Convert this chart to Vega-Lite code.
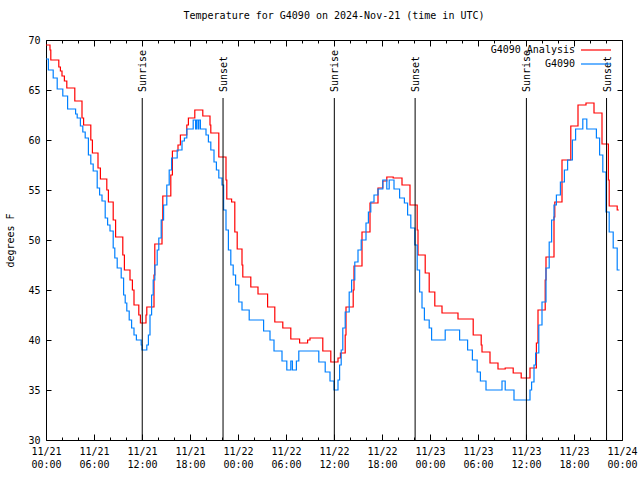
{
"$schema": "https://vega.github.io/schema/vega-lite/v6.json",
"width": 576, "height": 400,
"autosize": {"type": "none"},
"padding": {"left": 46, "top": 40, "right": 18, "bottom": 40},
"background": "white",
"title": {"text": "Temperature for G4090 on 2024-Nov-21 (time in UTC)", "font": "DejaVu Sans Mono", "fontSize": 10, "fontWeight": "normal", "anchor": "middle", "offset": 14, "color": "black"},
"config": {
  "view": {"stroke": "black", "strokeWidth": 1},
  "font": "DejaVu Sans Mono",
  "axis": {"labelFont": "DejaVu Sans Mono", "labelFontSize": 10, "labelColor": "black", "titleFont": "DejaVu Sans Mono", "titleFontSize": 10, "titleFontWeight": "normal", "titleColor": "black", "grid": false, "domain": false, "tickColor": "black", "tickWidth": 1, "labelFlush": false, "labelOverlap": false}
},
"datasets": {
  "temps": [
{"series":"G4090 Analysis","hour":0,"temp":69.5},{"series":"G4090 Analysis","hour":0.5,"temp":69},{"series":"G4090 Analysis","hour":0.6,"temp":68},{"series":"G4090 Analysis","hour":1.6,"temp":67.3},{"series":"G4090 Analysis","hour":1.8,"temp":66.9},{"series":"G4090 Analysis","hour":2,"temp":66.4},{"series":"G4090 Analysis","hour":2.3,"temp":65.9},{"series":"G4090 Analysis","hour":2.6,"temp":65.2},{"series":"G4090 Analysis","hour":3.6,"temp":63.9},{"series":"G4090 Analysis","hour":4.5,"temp":62.2},{"series":"G4090 Analysis","hour":4.7,"temp":61.5},{"series":"G4090 Analysis","hour":5.6,"temp":60},{"series":"G4090 Analysis","hour":5.8,"temp":58.7},{"series":"G4090 Analysis","hour":6.5,"temp":57.2},{"series":"G4090 Analysis","hour":6.8,"temp":56.1},{"series":"G4090 Analysis","hour":7.6,"temp":55},{"series":"G4090 Analysis","hour":7.8,"temp":53.8},{"series":"G4090 Analysis","hour":8.4,"temp":52},{"series":"G4090 Analysis","hour":8.7,"temp":50.3},{"series":"G4090 Analysis","hour":9.6,"temp":48.5},{"series":"G4090 Analysis","hour":9.8,"temp":47},{"series":"G4090 Analysis","hour":10.5,"temp":46},{"series":"G4090 Analysis","hour":10.8,"temp":45},{"series":"G4090 Analysis","hour":11,"temp":43.5},{"series":"G4090 Analysis","hour":11.6,"temp":42.5},{"series":"G4090 Analysis","hour":11.8,"temp":41.7},{"series":"G4090 Analysis","hour":12.5,"temp":42.5},{"series":"G4090 Analysis","hour":12.6,"temp":43.3},{"series":"G4090 Analysis","hour":13.5,"temp":46.5},{"series":"G4090 Analysis","hour":13.6,"temp":49.6},{"series":"G4090 Analysis","hour":14.5,"temp":52},{"series":"G4090 Analysis","hour":14.6,"temp":54.4},{"series":"G4090 Analysis","hour":15.6,"temp":56.5},{"series":"G4090 Analysis","hour":15.8,"temp":58.9},{"series":"G4090 Analysis","hour":16.5,"temp":59.5},{"series":"G4090 Analysis","hour":16.8,"temp":60.5},{"series":"G4090 Analysis","hour":17.6,"temp":61.5},{"series":"G4090 Analysis","hour":17.8,"temp":62.2},{"series":"G4090 Analysis","hour":18.6,"temp":63},{"series":"G4090 Analysis","hour":19.6,"temp":62.4},{"series":"G4090 Analysis","hour":20.5,"temp":61.5},{"series":"G4090 Analysis","hour":20.6,"temp":60.7},{"series":"G4090 Analysis","hour":21.6,"temp":58.3},{"series":"G4090 Analysis","hour":22.5,"temp":56},{"series":"G4090 Analysis","hour":22.6,"temp":54.1},{"series":"G4090 Analysis","hour":23.2,"temp":53.8},{"series":"G4090 Analysis","hour":23.6,"temp":50.8},{"series":"G4090 Analysis","hour":23.9,"temp":49.1},{"series":"G4090 Analysis","hour":24.5,"temp":47.5},{"series":"G4090 Analysis","hour":24.6,"temp":46.3},{"series":"G4090 Analysis","hour":25.6,"temp":45.3},{"series":"G4090 Analysis","hour":26.5,"temp":44.6},{"series":"G4090 Analysis","hour":27.7,"temp":43.3},{"series":"G4090 Analysis","hour":28.6,"temp":41.8},{"series":"G4090 Analysis","hour":29.6,"temp":41.2},{"series":"G4090 Analysis","hour":30.6,"temp":40.1},{"series":"G4090 Analysis","hour":31.7,"temp":39.7},{"series":"G4090 Analysis","hour":32.7,"temp":40},{"series":"G4090 Analysis","hour":33,"temp":40.2},{"series":"G4090 Analysis","hour":34.6,"temp":38.9},{"series":"G4090 Analysis","hour":35.6,"temp":37.8},{"series":"G4090 Analysis","hour":36.5,"temp":38.2},{"series":"G4090 Analysis","hour":36.8,"temp":38.7},{"series":"G4090 Analysis","hour":37.4,"temp":40.5},{"series":"G4090 Analysis","hour":37.5,"temp":43.3},{"series":"G4090 Analysis","hour":38.4,"temp":45},{"series":"G4090 Analysis","hour":38.5,"temp":47.4},{"series":"G4090 Analysis","hour":39.5,"temp":50.8},{"series":"G4090 Analysis","hour":40.5,"temp":53.7},{"series":"G4090 Analysis","hour":41.5,"temp":55.2},{"series":"G4090 Analysis","hour":42.1,"temp":55.9},{"series":"G4090 Analysis","hour":42.6,"temp":56.3},{"series":"G4090 Analysis","hour":43.4,"temp":56.2},{"series":"G4090 Analysis","hour":44.5,"temp":55.5},{"series":"G4090 Analysis","hour":45.5,"temp":53.5},{"series":"G4090 Analysis","hour":46.4,"temp":51},{"series":"G4090 Analysis","hour":46.5,"temp":48.5},{"series":"G4090 Analysis","hour":47.4,"temp":46.7},{"series":"G4090 Analysis","hour":47.9,"temp":44.8},{"series":"G4090 Analysis","hour":48.6,"temp":43.4},{"series":"G4090 Analysis","hour":49.5,"temp":42.7},{"series":"G4090 Analysis","hour":51.5,"temp":42.1},{"series":"G4090 Analysis","hour":53.4,"temp":40.5},{"series":"G4090 Analysis","hour":54.4,"temp":39.5},{"series":"G4090 Analysis","hour":54.5,"temp":38.8},{"series":"G4090 Analysis","hour":55.5,"temp":37.7},{"series":"G4090 Analysis","hour":56.5,"temp":37.1},{"series":"G4090 Analysis","hour":57.4,"temp":37.2},{"series":"G4090 Analysis","hour":58.4,"temp":36.7},{"series":"G4090 Analysis","hour":59.4,"temp":36.2},{"series":"G4090 Analysis","hour":60.5,"temp":37.2},{"series":"G4090 Analysis","hour":61.3,"temp":39.7},{"series":"G4090 Analysis","hour":61.5,"temp":43},{"series":"G4090 Analysis","hour":62.4,"temp":46},{"series":"G4090 Analysis","hour":62.5,"temp":48.3},{"series":"G4090 Analysis","hour":63.5,"temp":52.3},{"series":"G4090 Analysis","hour":63.6,"temp":53.8},{"series":"G4090 Analysis","hour":64.5,"temp":58},{"series":"G4090 Analysis","hour":65.6,"temp":61.4},{"series":"G4090 Analysis","hour":66.5,"temp":63.5},{"series":"G4090 Analysis","hour":67.5,"temp":63.7},{"series":"G4090 Analysis","hour":68.5,"temp":62.7},{"series":"G4090 Analysis","hour":69.5,"temp":59.6},{"series":"G4090 Analysis","hour":70.3,"temp":56},{"series":"G4090 Analysis","hour":70.4,"temp":53.4},{"series":"G4090 Analysis","hour":71.4,"temp":53},{"series":"G4090 Analysis","hour":71.6,"temp":53},
{"series":"G4090","hour":0,"temp":68.1},{"series":"G4090","hour":0.3,"temp":67},{"series":"G4090","hour":0.9,"temp":66.2},{"series":"G4090","hour":1.4,"temp":65.1},{"series":"G4090","hour":2.1,"temp":64.4},{"series":"G4090","hour":2.7,"temp":63.1},{"series":"G4090","hour":3.7,"temp":62.6},{"series":"G4090","hour":3.9,"temp":62.2},{"series":"G4090","hour":4.3,"temp":61.4},{"series":"G4090","hour":4.6,"temp":60.8},{"series":"G4090","hour":4.9,"temp":60.2},{"series":"G4090","hour":5.3,"temp":58.5},{"series":"G4090","hour":5.6,"temp":57.6},{"series":"G4090","hour":5.9,"temp":56.9},{"series":"G4090","hour":6.4,"temp":55.2},{"series":"G4090","hour":6.7,"temp":54.5},{"series":"G4090","hour":7,"temp":53.9},{"series":"G4090","hour":7.4,"temp":52.2},{"series":"G4090","hour":7.7,"temp":51.5},{"series":"G4090","hour":8,"temp":50.9},{"series":"G4090","hour":8.4,"temp":49.2},{"series":"G4090","hour":8.6,"temp":48.2},{"series":"G4090","hour":8.9,"temp":47.2},{"series":"G4090","hour":9.4,"temp":46.2},{"series":"G4090","hour":9.7,"temp":44.5},{"series":"G4090","hour":9.9,"temp":43.7},{"series":"G4090","hour":10.1,"temp":42.9},{"series":"G4090","hour":10.4,"temp":42},{"series":"G4090","hour":10.7,"temp":41.2},{"series":"G4090","hour":11,"temp":40.5},{"series":"G4090","hour":11.3,"temp":40},{"series":"G4090","hour":11.9,"temp":39.5},{"series":"G4090","hour":12,"temp":39},{"series":"G4090","hour":12.6,"temp":39.5},{"series":"G4090","hour":12.8,"temp":40.5},{"series":"G4090","hour":13,"temp":42.5},{"series":"G4090","hour":13.2,"temp":44.5},{"series":"G4090","hour":13.4,"temp":46},{"series":"G4090","hour":13.6,"temp":47.5},{"series":"G4090","hour":13.9,"temp":49},{"series":"G4090","hour":14.1,"temp":50.2},{"series":"G4090","hour":14.4,"temp":52},{"series":"G4090","hour":14.7,"temp":53.5},{"series":"G4090","hour":15.1,"temp":55.5},{"series":"G4090","hour":15.4,"temp":57},{"series":"G4090","hour":15.7,"temp":58.2},{"series":"G4090","hour":16.4,"temp":59},{"series":"G4090","hour":17,"temp":59.9},{"series":"G4090","hour":17.3,"temp":60.2},{"series":"G4090","hour":17.6,"temp":61.1},{"series":"G4090","hour":18.4,"temp":62},{"series":"G4090","hour":18.7,"temp":61.1},{"series":"G4090","hour":18.8,"temp":62},{"series":"G4090","hour":19,"temp":61.1},{"series":"G4090","hour":19.1,"temp":62},{"series":"G4090","hour":19.3,"temp":61.1},{"series":"G4090","hour":20,"temp":60.5},{"series":"G4090","hour":20.3,"temp":59.8},{"series":"G4090","hour":20.6,"temp":59},{"series":"G4090","hour":21,"temp":57.8},{"series":"G4090","hour":21.3,"temp":57},{"series":"G4090","hour":21.6,"temp":56.2},{"series":"G4090","hour":22,"temp":55.5},{"series":"G4090","hour":22.2,"temp":53},{"series":"G4090","hour":22.5,"temp":51},{"series":"G4090","hour":22.8,"temp":49},{"series":"G4090","hour":23.1,"temp":47.5},{"series":"G4090","hour":23.4,"temp":46.5},{"series":"G4090","hour":23.7,"temp":45.5},{"series":"G4090","hour":24.1,"temp":43.8},{"series":"G4090","hour":24.5,"temp":43},{"series":"G4090","hour":25.4,"temp":42},{"series":"G4090","hour":27.2,"temp":40.9},{"series":"G4090","hour":28,"temp":40},{"series":"G4090","hour":28.5,"temp":38.9},{"series":"G4090","hour":29.5,"temp":37.9},{"series":"G4090","hour":30.1,"temp":37},{"series":"G4090","hour":30.6,"temp":37.9},{"series":"G4090","hour":30.8,"temp":37},{"series":"G4090","hour":31.3,"temp":37.9},{"series":"G4090","hour":31.6,"temp":38.9},{"series":"G4090","hour":34.1,"temp":37.8},{"series":"G4090","hour":34.9,"temp":36.8},{"series":"G4090","hour":35.5,"temp":35.9},{"series":"G4090","hour":36,"temp":35},{"series":"G4090","hour":36.5,"temp":36},{"series":"G4090","hour":36.7,"temp":37.5},{"series":"G4090","hour":36.9,"temp":39},{"series":"G4090","hour":37.1,"temp":41.2},{"series":"G4090","hour":37.4,"temp":42.8},{"series":"G4090","hour":37.9,"temp":44.8},{"series":"G4090","hour":38.2,"temp":46},{"series":"G4090","hour":38.6,"temp":47.8},{"series":"G4090","hour":39,"temp":49},{"series":"G4090","hour":39.4,"temp":50},{"series":"G4090","hour":40,"temp":51.7},{"series":"G4090","hour":40.3,"temp":52.8},{"series":"G4090","hour":40.6,"temp":53.8},{"series":"G4090","hour":41,"temp":54.5},{"series":"G4090","hour":41.5,"temp":55.1},{"series":"G4090","hour":42.1,"temp":56},{"series":"G4090","hour":42.6,"temp":55.1},{"series":"G4090","hour":42.9,"temp":56},{"series":"G4090","hour":43.5,"temp":55.1},{"series":"G4090","hour":44.2,"temp":54.2},{"series":"G4090","hour":44.8,"temp":53.7},{"series":"G4090","hour":45.2,"temp":52.5},{"series":"G4090","hour":45.6,"temp":51.2},{"series":"G4090","hour":46.1,"temp":49.5},{"series":"G4090","hour":46.4,"temp":47},{"series":"G4090","hour":46.7,"temp":44.8},{"series":"G4090","hour":47,"temp":43.2},{"series":"G4090","hour":47.3,"temp":42},{"series":"G4090","hour":47.9,"temp":41.2},{"series":"G4090","hour":48.2,"temp":40},{"series":"G4090","hour":49.9,"temp":41},{"series":"G4090","hour":51.7,"temp":40},{"series":"G4090","hour":52.7,"temp":39},{"series":"G4090","hour":53.3,"temp":38},{"series":"G4090","hour":53.9,"temp":36.8},{"series":"G4090","hour":54.3,"temp":35.9},{"series":"G4090","hour":55,"temp":35},{"series":"G4090","hour":57,"temp":35.9},{"series":"G4090","hour":57.4,"temp":35},{"series":"G4090","hour":58.5,"temp":34},{"series":"G4090","hour":60.5,"temp":35},{"series":"G4090","hour":60.7,"temp":35.8},{"series":"G4090","hour":61,"temp":37.5},{"series":"G4090","hour":61.2,"temp":38.7},{"series":"G4090","hour":61.6,"temp":41.5},{"series":"G4090","hour":62,"temp":43.8},{"series":"G4090","hour":62.5,"temp":47.2},{"series":"G4090","hour":62.9,"temp":49.8},{"series":"G4090","hour":63.2,"temp":52},{"series":"G4090","hour":63.5,"temp":53.5},{"series":"G4090","hour":63.8,"temp":54.5},{"series":"G4090","hour":64.3,"temp":55.8},{"series":"G4090","hour":64.8,"temp":57},{"series":"G4090","hour":65.2,"temp":58},{"series":"G4090","hour":65.8,"temp":60},{"series":"G4090","hour":66.2,"temp":61.1},{"series":"G4090","hour":67.1,"temp":62.1},{"series":"G4090","hour":67.6,"temp":61.1},{"series":"G4090","hour":68.8,"temp":60.2},{"series":"G4090","hour":69.2,"temp":58.5},{"series":"G4090","hour":69.6,"temp":56.8},{"series":"G4090","hour":70,"temp":52.8},{"series":"G4090","hour":70.4,"temp":50.8},{"series":"G4090","hour":70.9,"temp":49.2},{"series":"G4090","hour":71.4,"temp":47},{"series":"G4090","hour":71.7,"temp":47}
  ],
  "sun": [
    {"hour": 12.03, "label": "Sunrise"},
    {"hour": 22.13, "label": "Sunset"},
    {"hour": 36.04, "label": "Sunrise"},
    {"hour": 46.14, "label": "Sunset"},
    {"hour": 60.05, "label": "Sunrise"},
    {"hour": 70.07, "label": "Sunset"}
  ]
},
"layer": [
  {
    "data": {"name": "temps"},
    "mark": {"type": "line", "interpolate": "step-after", "strokeWidth": 1.2},
    "encoding": {
      "x": {"field": "hour", "type": "quantitative", "scale": {"domain": [0, 72], "nice": false, "zero": false},
            "axis": {"orient": "bottom", "values": [0,6,12,18,24,30,36,42,48,54,60,66,72], "ticks": false, "title": null, "labelPadding": 6, "labelLineHeight": 13.5,
                     "labelExpr": "['11/' + (21 + floor(datum.value / 24)), ((datum.value % 24) < 10 ? '0' : '') + (datum.value % 24) + ':00']"}},
      "y": {"field": "temp", "type": "quantitative", "scale": {"domain": [30, 70], "nice": false, "zero": false},
            "axis": {"orient": "left", "values": [30,35,40,45,50,55,60,65,70], "ticks": false, "labelPadding": 6, "title": "degrees F", "titlePadding": 12}},
      "color": {"field": "series", "type": "nominal", "sort": ["G4090 Analysis", "G4090"],
                "scale": {"domain": ["G4090 Analysis", "G4090"], "range": ["#ff0000", "#0080ff"]},
                "legend": {"orient": "none", "legendX": 544, "legendY": 4, "title": null, "padding": 0, "symbolType": "M-3,0H3", "symbolSize": 100, "symbolStrokeWidth": 1.2,
                           "labelFont": "DejaVu Sans Mono", "labelFontSize": 10, "labelColor": "black", "labelAlign": "right", "labelOffset": -27, "rowPadding": 3}}
    }
  },
  {
    "data": {"name": "sun"},
    "mark": {"type": "rule", "color": "black", "strokeWidth": 1},
    "encoding": {
      "x": {"field": "hour", "type": "quantitative",
            "axis": {"orient": "bottom", "offset": -6, "values": [0,2,4,6,8,10,12,14,16,18,20,22,24,26,28,30,32,34,36,38,40,42,44,46,48,50,52,54,56,58,60,62,64,66,68,70,72], "labels": false, "title": null, "ticks": true, "tickSize": 6,
                     "tickDash": {"condition": {"test": "datum.value % 6 !== 0", "value": [0, 3, 3, 0]}, "value": [6, 0]}}},
      "y": {"datum": 30, "type": "quantitative", "axis": {"orient": "left", "offset": -5, "values": [30,35,40,45,50,55,60,65,70], "labels": false, "title": null, "ticks": true, "tickSize": 5}},
      "y2": {"datum": 64.2}
    }
  },
  {
    "data": {"name": "sun"},
    "mark": {"type": "text", "angle": 270, "align": "left", "baseline": "middle", "fontSize": 10, "font": "DejaVu Sans Mono", "color": "black", "dy": 1},
    "encoding": {
      "x": {"field": "hour", "type": "quantitative",
            "axis": {"orient": "top", "offset": -6, "values": [0,2,4,6,8,10,12,14,16,18,20,22,24,26,28,30,32,34,36,38,40,42,44,46,48,50,52,54,56,58,60,62,64,66,68,70,72], "labels": false, "title": null, "ticks": true, "tickSize": 6,
                     "tickDash": {"condition": {"test": "datum.value % 6 !== 0", "value": [0, 3, 3, 0]}, "value": [6, 0]}}},
      "y": {"datum": 64.8, "type": "quantitative", "axis": {"orient": "right", "offset": -5, "values": [30,35,40,45,50,55,60,65,70], "labels": false, "title": null, "ticks": true, "tickSize": 5}},
      "text": {"field": "label"}
    }
  }
],
"resolve": {"axis": {"x": "independent", "y": "independent"}}
}
